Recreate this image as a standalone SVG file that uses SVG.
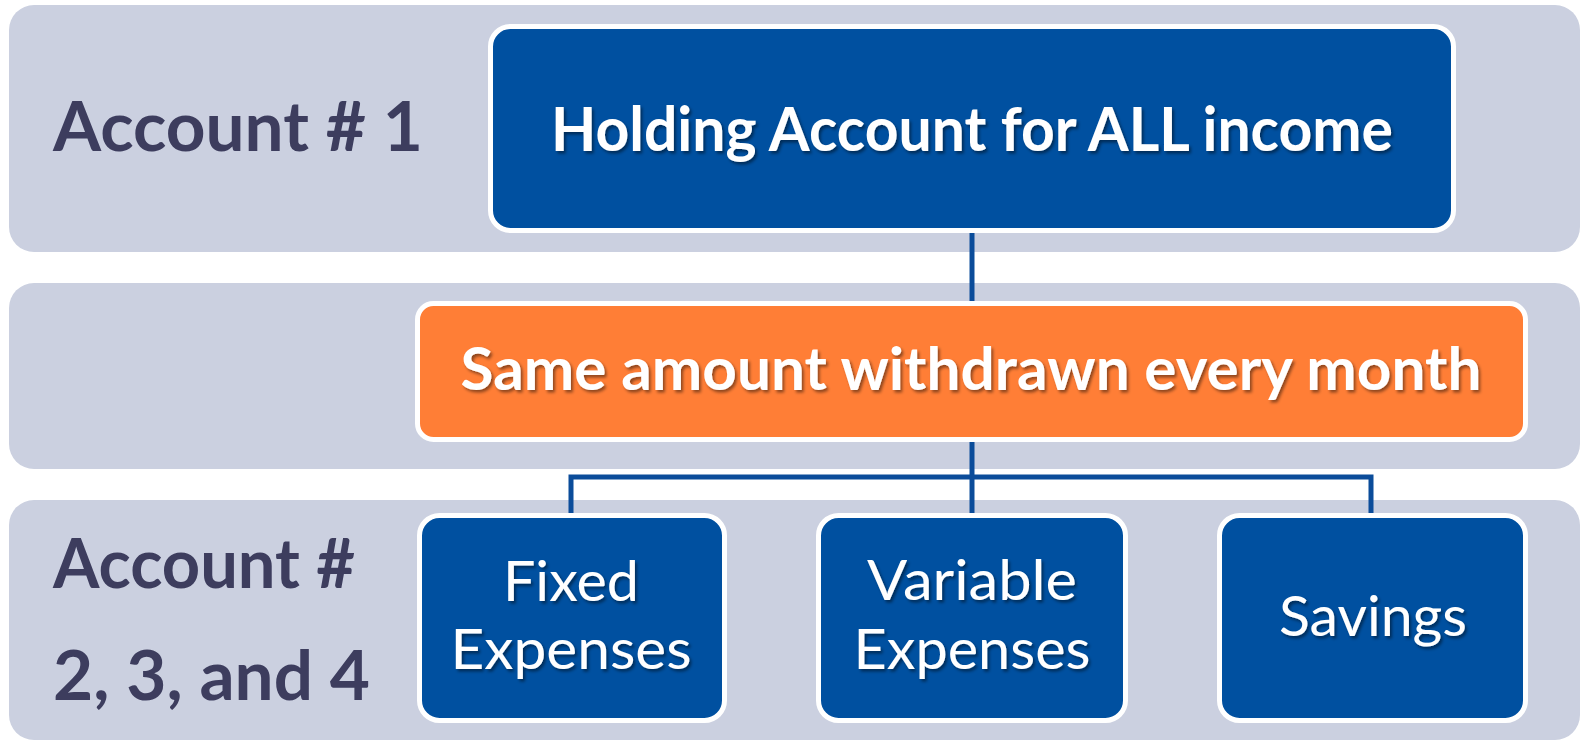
<svg xmlns="http://www.w3.org/2000/svg" width="1581" height="742" viewBox="0 0 1581 742">
  <defs>
    <filter id="txtShadow" x="-5%" y="-20%" width="110%" height="140%">
      <feDropShadow dx="2" dy="2.5" stdDeviation="1.5" flood-color="#000" flood-opacity="0.45"/>
    </filter>
  </defs>
  <style>
    .band { fill: #CBD0E0; }
    .node { stroke: #FFFFFF; stroke-width: 5; }
    .blue { fill: #0050A0; }
    .orange { fill: #FF7E36; }
    .label { font-family: Lato, "Liberation Sans", sans-serif; font-weight: 700; fill: #3D3D5E; }
    .ntext { font-family: Lato, "Liberation Sans", sans-serif; fill: #FFFFFF; text-anchor: middle; filter: url(#txtShadow); }
    .bold { font-weight: 700; }
    .conn { fill: none; stroke: #0B4C9A; stroke-width: 5; }
  </style>

  <!-- background bands -->
  <g id="bands">
    <rect class="band" x="9" y="5" width="1571" height="247" rx="25"/>
    <rect class="band" x="9" y="283" width="1571" height="186" rx="25"/>
    <rect class="band" x="9" y="500" width="1571" height="240" rx="25"/>
  </g>

  <!-- row labels -->
  <g id="label-account1">
    <text class="label" x="53" y="151" font-size="69" textLength="370" lengthAdjust="spacingAndGlyphs">Account # 1</text>
  </g>
  <g id="label-account234">
    <text class="label" x="53" y="588" font-size="68" textLength="302" lengthAdjust="spacingAndGlyphs">Account #</text>
    <text class="label" x="53" y="700" font-size="68" textLength="317" lengthAdjust="spacingAndGlyphs">2, 3, and 4</text>
  </g>

  <!-- connectors -->
  <g id="connectors">
    <path class="conn" d="M972 232 V303"/>
    <path class="conn" d="M972 441 V515"/>
    <path class="conn" d="M571 515 V477 H1371 V515"/>
  </g>

  <g id="node-holding">
    <rect class="node blue" x="490.5" y="26.5" width="963" height="204" rx="20"/>
    <text class="ntext bold" x="972" y="151" font-size="62" textLength="842" lengthAdjust="spacingAndGlyphs">Holding Account for ALL income</text>
  </g>

  <g id="node-withdrawn">
    <rect class="node orange" x="417.5" y="303.5" width="1108" height="136" rx="16"/>
    <text class="ntext bold" x="971" y="390" font-size="60" textLength="1021" lengthAdjust="spacingAndGlyphs">Same amount withdrawn every month</text>
  </g>

  <g id="node-fixed">
    <rect class="node blue" x="419.5" y="515.5" width="305" height="205" rx="20"/>
    <text class="ntext" x="571" y="601" font-size="56" textLength="136" lengthAdjust="spacingAndGlyphs">Fixed</text>
    <text class="ntext" x="571" y="669" font-size="56" textLength="241" lengthAdjust="spacingAndGlyphs">Expenses</text>
  </g>

  <g id="node-variable">
    <rect class="node blue" x="818.5" y="515.5" width="307" height="205" rx="20"/>
    <text class="ntext" x="972" y="600" font-size="56" textLength="210" lengthAdjust="spacingAndGlyphs">Variable</text>
    <text class="ntext" x="972" y="669" font-size="56" textLength="237" lengthAdjust="spacingAndGlyphs">Expenses</text>
  </g>

  <g id="node-savings">
    <rect class="node blue" x="1219.5" y="515.5" width="306" height="205" rx="20"/>
    <text class="ntext" x="1373" y="636" font-size="56" textLength="188" lengthAdjust="spacingAndGlyphs">Savings</text>
  </g>
</svg>
